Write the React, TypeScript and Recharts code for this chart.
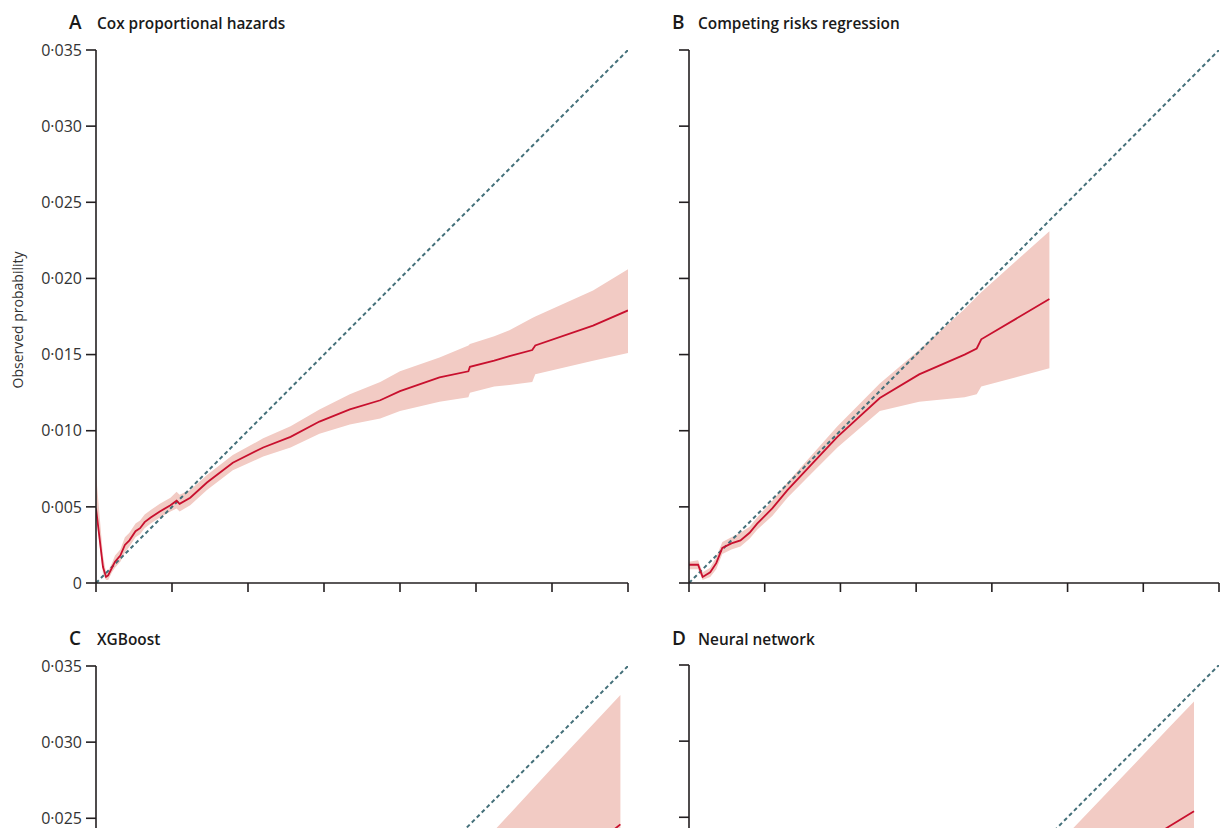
import { ComposedChart, Area, Line, XAxis, YAxis } from 'recharts'

// axis ticks (predicted and observed probability share the same scale)
const xTicks = [0, 0.005, 0.01, 0.015, 0.02, 0.025, 0.03, 0.035]
const yTicks = [0, 0.005, 0.01, 0.015, 0.02, 0.025, 0.03, 0.035]
const diagX = [0, 0.035]

// A: Cox proportional hazards
const aX = [0, 0.00046, 0.00066, 0.0008, 0.00105, 0.00125, 0.0016, 0.0019, 0.0022, 0.0026, 0.0029, 0.0032, 0.0036, 0.0042, 0.0049, 0.0053, 0.0055, 0.0062, 0.0073, 0.009, 0.011, 0.0128, 0.0147, 0.0167, 0.0187, 0.02, 0.0226, 0.0245, 0.0246, 0.0262, 0.0272, 0.0287, 0.0289, 0.0327, 0.035]
const aObs = [0.0049, 0.00105, 0.0004, 0.0005, 0.001, 0.0014, 0.0018, 0.0025, 0.0028, 0.0034, 0.0036, 0.004, 0.0043, 0.0047, 0.0051, 0.0054, 0.0052, 0.0056, 0.0066, 0.0079, 0.0089, 0.0096, 0.0106, 0.0114, 0.012, 0.0126, 0.0135, 0.0139, 0.0142, 0.0146, 0.0149, 0.0153, 0.0156, 0.0169, 0.0179]
const aLo = [0.0045, 0.0006, 0.0002, 0.0002, 0.0007, 0.001, 0.0014, 0.002, 0.0024, 0.003, 0.0032, 0.0036, 0.0039, 0.0043, 0.0047, 0.0049, 0.0047, 0.0051, 0.0061, 0.0074, 0.0083, 0.0089, 0.0098, 0.0104, 0.0108, 0.0113, 0.0119, 0.0122, 0.0125, 0.0129, 0.013, 0.0132, 0.0137, 0.0146, 0.0151]
const aHi = [0.0072, 0.0018, 0.0007, 0.0008, 0.0013, 0.0018, 0.0022, 0.003, 0.0033, 0.0039, 0.0041, 0.0045, 0.0048, 0.0052, 0.0056, 0.006, 0.0058, 0.0061, 0.0071, 0.0084, 0.0095, 0.0103, 0.0114, 0.0124, 0.0132, 0.0139, 0.0148, 0.0156, 0.0157, 0.0162, 0.0166, 0.0174, 0.0175, 0.0192, 0.0206]

// B: Competing risks regression
const bX = [0, 0.0006, 0.0009, 0.0014, 0.0018, 0.0022, 0.0028, 0.0034, 0.004, 0.0045, 0.0055, 0.0065, 0.0082, 0.0098, 0.0126, 0.0152, 0.0182, 0.019, 0.0193, 0.0238]
const bObs = [0.0012, 0.0012, 0.0004, 0.0007, 0.0013, 0.0023, 0.0026, 0.0028, 0.0033, 0.0039, 0.0049, 0.0061, 0.0079, 0.0096, 0.01215, 0.0137, 0.015, 0.0154, 0.016, 0.01865]
const bLo = [0.0009, 0.0009, 0.0002, 0.0004, 0.0009, 0.0019, 0.0022, 0.0024, 0.0029, 0.0035, 0.0044, 0.0056, 0.0073, 0.0089, 0.0113, 0.0119, 0.0122, 0.0124, 0.0129, 0.0141]
const bHi = [0.0014, 0.0015, 0.0007, 0.001, 0.0017, 0.0027, 0.003, 0.0033, 0.0037, 0.0043, 0.0054, 0.0066, 0.0085, 0.0103, 0.0131, 0.0153, 0.018, 0.0188, 0.0191, 0.0231]

// C: XGBoost (only the top is visible)
const cX = [0, 0.005, 0.01, 0.015, 0.02, 0.025, 0.03, 0.0345]
const cObs = [0.0008, 0.0045, 0.0085, 0.012, 0.015, 0.018, 0.021, 0.0246]
const cLo = [0.0003, 0.0032, 0.006, 0.008, 0.01, 0.012, 0.014, 0.016]
const cHi = [0.0015, 0.006, 0.011, 0.0155, 0.0185, 0.0229, 0.0283, 0.0331]

// D: Neural network (only the top is visible)
const dX = [0, 0.005, 0.01, 0.015, 0.02, 0.025, 0.03, 0.0317, 0.03335]
const dObs = [0.0008, 0.0045, 0.0085, 0.0125, 0.0165, 0.02, 0.0233, 0.0244, 0.0254]
const dLo = [0.0003, 0.0032, 0.006, 0.009, 0.012, 0.014, 0.016, 0.0165, 0.017]
const dHi = [0.0015, 0.006, 0.0105, 0.0145, 0.019, 0.0239, 0.0291, 0.0309, 0.0326]

const FONT = "'Open Sans', sans-serif"
const AXIS = '#231f20'
const RED = '#c8102e'
const BAND = '#f2cbc4'
const DIAG = '#44707a'

function rows(xs: number[], obs: number[], lo: number[], hi: number[]) {
  return xs.map((x, i) => ({ x, obs: obs[i], band: [lo[i], hi[i]] }))
}

const fmt = (v: number) => (v === 0 ? '0' : v.toFixed(3).replace('.', '·'))

function Panel({ data, width, labels }: { data: ReturnType<typeof rows>; width: number; labels: boolean }) {
  const diag = diagX.map(x => ({ x, y: x }))
  return (
    <ComposedChart width={width} height={613} data={data} margin={{ top: 50, right: 12, bottom: 0, left: 36 }}>
      <XAxis
        type="number"
        dataKey="x"
        domain={[0, 0.035]}
        ticks={xTicks}
        allowDataOverflow
        height={30}
        tickSize={9}
        tickFormatter={() => ''}
        axisLine={{ stroke: AXIS, strokeWidth: 1.6 }}
        tickLine={{ stroke: AXIS, strokeWidth: 1.6 }}
      />
      <YAxis
        type="number"
        domain={[0, 0.035]}
        ticks={yTicks}
        allowDataOverflow
        width={60}
        tickSize={10}
        tickMargin={4}
        tickFormatter={labels ? fmt : () => ''}
        tick={{ fill: '#333', fontSize: 16, fontFamily: FONT }}
        axisLine={{ stroke: AXIS, strokeWidth: 1.6 }}
        tickLine={{ stroke: AXIS, strokeWidth: 1.6 }}
      />
      <Area dataKey="band" type="linear" stroke="none" fill={BAND} fillOpacity={1} isAnimationActive={false} />
      <Line data={diag} dataKey="y" type="linear" stroke={DIAG} strokeWidth={2} strokeDasharray="4 3" dot={false} isAnimationActive={false} />
      <Line dataKey="obs" type="linear" stroke={RED} strokeWidth={1.8} dot={false} isAnimationActive={false} />
    </ComposedChart>
  )
}

const titles = [
  { letter: 'A', text: 'Cox proportional hazards', lx: 69, tx: 97, y: 29 },
  { letter: 'B', text: 'Competing risks regression', lx: 672, tx: 698, y: 29 },
  { letter: 'C', text: 'XGBoost', lx: 69, tx: 97, y: 645 },
  { letter: 'D', text: 'Neural network', lx: 672, tx: 698, y: 645 },
]

export default function App() {
  return (
    <div style={{ position: 'absolute', left: 0, top: 0, width: 1220, height: 828, overflow: 'hidden', background: '#fff' }}>
      <div style={{ position: 'absolute', left: 0, top: 0 }}>
        <Panel data={rows(aX, aObs, aLo, aHi)} width={640} labels />
      </div>
      <div style={{ position: 'absolute', left: 593, top: 0 }}>
        <Panel data={rows(bX, bObs, bLo, bHi)} width={638} labels={false} />
      </div>
      <div style={{ position: 'absolute', left: 0, top: 616 }}>
        <Panel data={rows(cX, cObs, cLo, cHi)} width={640} labels />
      </div>
      <div style={{ position: 'absolute', left: 593, top: 615 }}>
        <Panel data={rows(dX, dObs, dLo, dHi)} width={638} labels={false} />
      </div>
      <svg width={1220} height={828} style={{ position: 'absolute', left: 0, top: 0, pointerEvents: 'none' }}>
        {titles.map(t => (
          <g key={t.letter} fontFamily={FONT} fill="#1a1a1a">
            <text x={t.lx} y={t.y} fontSize={19} fontWeight={600}>{t.letter}</text>
            <text x={t.tx} y={t.y} fontSize={15.4} fontWeight={600}>{t.text}</text>
          </g>
        ))}
        <text x={23} y={320} transform="rotate(-90 23 320)" textAnchor="middle" fontFamily={FONT} fontSize={14} fill="#333">
          Observed probability
        </text>
      </svg>
    </div>
  )
}
